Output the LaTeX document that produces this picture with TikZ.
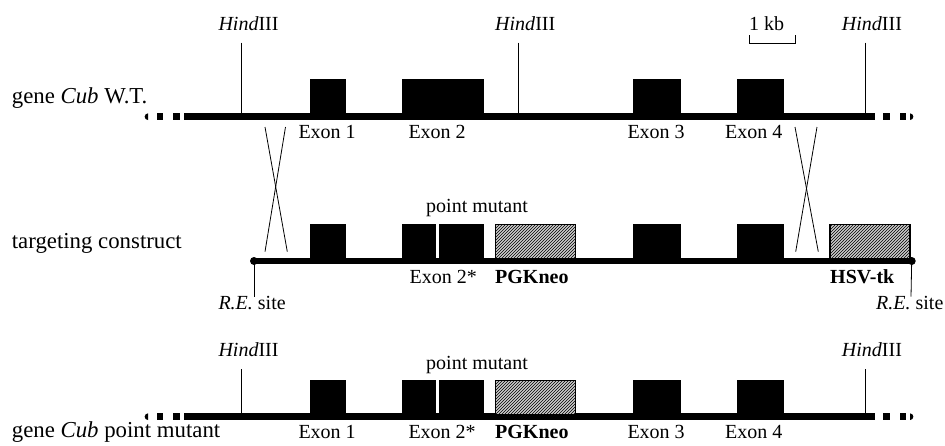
\documentclass[tikz,border=0pt]{standalone}
\usepackage{fontspec}
\setmainfont{Liberation Serif}
\usetikzlibrary{patterns}
\begin{document}
\begin{tikzpicture}[x=1pt,y=-1pt,
  lbl/.style={font=\fontsize{20}{24}\selectfont, inner sep=0pt, anchor=base west},
  rowlbl/.style={font=\fontsize{22.8}{27}\selectfont, inner sep=0pt, anchor=base west},
  backbone/.style={line width=6.7pt},
  exon/.style={fill=black},
  hatchbox/.style={draw=black, line width=1.4pt, preaction={fill=gray!40}, pattern=north east lines},
  thinline/.style={line width=0.8pt},
  dot/.style={circle, fill=black, inner sep=0pt, minimum size=8pt}
]
\useasboundingbox (0,0) rectangle (945,445);

% ---------- helper for dashed ends ----------
\newcommand\myends[1]{%
  \begin{scope}
    \clip (140,#1-5) rectangle (148,#1+5);
    \fill (148,#1) circle (3.35);
  \end{scope}
  \fill (156.7,#1-3.35) rectangle (163.3,#1+3.35);
  \fill (173.3,#1-3.35) rectangle (180,#1+3.35);
  \fill (883.3,#1-3.35) rectangle (890.3,#1+3.35);
  \fill (899.5,#1-3.35) rectangle (905.5,#1+3.35);
  \begin{scope}
    \clip (910,#1-5) rectangle (918,#1+5);
    \fill (910,#1) circle (3.35);
  \end{scope}
}

% ================= Row 1: gene Cub W.T. =================
\node[rowlbl] (lab1) at (11.7,103) {gene \textit{Cub} W.T.};
\coordinate (b1s) at (184.3,116.7);
\coordinate (b1e) at (875,116.7);
\draw[backbone] (b1s) -- (b1e);
\myends{116.7}
\fill[exon] (310,79) rectangle (345.7,117);
\fill[exon] (402.3,79) rectangle (484,117);
\fill[exon] (633.3,79) rectangle (680.7,117);
\fill[exon] (736.7,79) rectangle (784.3,117);
\node[lbl] (e11) at (298.3,138.3) {Exon 1};
\node[lbl] (e12) at (408.3,138.3) {Exon 2};
\node[lbl] (e13) at (627.3,138.3) {Exon 3};
\node[lbl] (e14) at (725,138.3) {Exon 4};
% HindIII sites
\node[lbl] (h11) at (218.3,30.5) {\textit{Hind}III};
\node[lbl] (h12) at (495,30.5) {\textit{Hind}III};
\node[lbl] (h13) at (841.7,30.5) {\textit{Hind}III};
\coordinate (h11t) at (241.7,42.7); \coordinate (h11b) at (241.7,114);
\coordinate (h12t) at (518.3,42.7); \coordinate (h12b) at (518.3,114);
\coordinate (h13t) at (865,42.7);   \coordinate (h13b) at (865,114);
\draw[thinline] (h11t) -- (h11b);
\draw[thinline] (h12t) -- (h12b);
\draw[thinline] (h13t) -- (h13b);
% scale bar
\node[lbl] (kb) at (749,30.5) {1 kb};
\coordinate (kb1) at (749,35); \coordinate (kb2) at (749,43.3);
\coordinate (kb3) at (795.7,43.3); \coordinate (kb4) at (795.7,35);
\draw[thinline] (kb1) -- (kb2) -- (kb3) -- (kb4);

% ================= crossovers =================
\coordinate (xl1) at (265,127);   \coordinate (xl2) at (287.3,251.7);
\coordinate (xl3) at (285.5,127); \coordinate (xl4) at (265,251.7);
\draw[thinline] (xl1) -- (xl2);
\draw[thinline] (xl3) -- (xl4);
\coordinate (xr1) at (795,127);   \coordinate (xr2) at (818.3,251.7);
\coordinate (xr3) at (817,127);   \coordinate (xr4) at (795.7,251.7);
\draw[thinline] (xr1) -- (xr2);
\draw[thinline] (xr3) -- (xr4);

% ================= Row 2: targeting construct =================
\node[rowlbl] (lab2) at (11.7,248.3) {targeting construct};
\node[dot] (re1) at (254,261) {};
\node[dot] (re2) at (911.7,261) {};
\draw[backbone] (re1.center) -- (re2.center);
\fill[exon] (310,224) rectangle (345.7,261);
\fill[exon] (402.3,224) rectangle (436,261);
\fill[exon] (438.7,224) rectangle (484,261);
\fill[exon] (633.3,224) rectangle (680.7,261);
\fill[exon] (736.7,224) rectangle (784.3,261);
\draw[hatchbox] (495.7,224.7) rectangle (575.5,259);
\draw[hatchbox] (830,224.7) rectangle (910,259);
\node[lbl] (pm2) at (426,212.5) {point mutant};
\node[lbl] (e22) at (409.5,283.3) {Exon 2*};
\node[lbl] (pg2) at (495,283.3) {\textbf{PGKneo}};
\node[lbl] (hsv) at (830,283.3) {\textbf{HSV-tk}};
\node[lbl] (res1) at (218.3,309.3) {\textit{R.E.} site};
\node[lbl] (res2) at (876,309.3) {\textit{R.E.} site};
\coordinate (re1b) at (254,296.7);
\coordinate (re2b) at (911,296.7);
\draw[thinline] (re1.center) -- (re1b);
\draw[thinline] (re2.center) -- (re2b);

% ================= Row 3: gene Cub point mutant =================
\node[rowlbl] (lab3) at (11.7,437.8) {gene \textit{Cub} point mutant};
\coordinate (b3s) at (184.3,416.7);
\coordinate (b3e) at (875,416.7);
\draw[backbone] (b3s) -- (b3e);
\myends{416.7}
\fill[exon] (310,380) rectangle (345.7,417);
\fill[exon] (402.3,380) rectangle (436,417);
\fill[exon] (438.7,380) rectangle (484,417);
\fill[exon] (633.3,380) rectangle (680.7,417);
\fill[exon] (736.7,380) rectangle (784.3,417);
\draw[hatchbox] (495.7,380.7) rectangle (575.5,415);
\node[lbl] (pm3) at (426,369) {point mutant};
\node[lbl] (e31) at (298.3,438.3) {Exon 1};
\node[lbl] (e32) at (408.3,438.3) {Exon 2*};
\node[lbl] (pg3) at (495,438.3) {\textbf{PGKneo}};
\node[lbl] (e33) at (627.3,438.3) {Exon 3};
\node[lbl] (e34) at (725,438.3) {Exon 4};
\node[lbl] (h31) at (218.3,356.7) {\textit{Hind}III};
\node[lbl] (h33) at (841.7,356.7) {\textit{Hind}III};
\coordinate (h31t) at (241.7,369.3); \coordinate (h31b) at (241.7,414);
\coordinate (h33t) at (865,369.3);   \coordinate (h33b) at (865,414);
\draw[thinline] (h31t) -- (h31b);
\draw[thinline] (h33t) -- (h33b);
\end{tikzpicture}
\end{document}
